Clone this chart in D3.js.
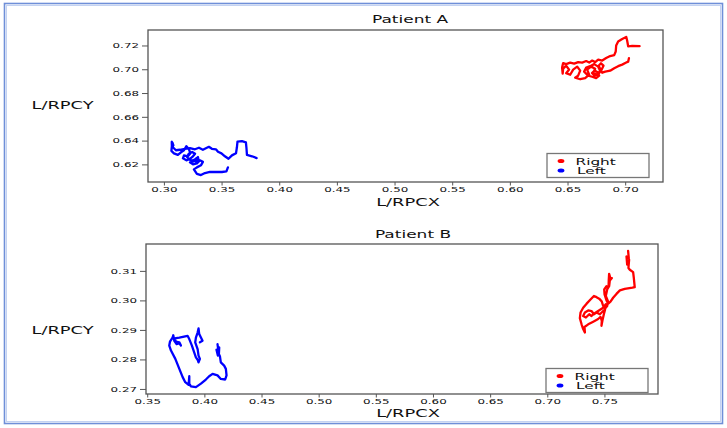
<!DOCTYPE html>
<html>
<head>
<meta charset="utf-8">
<script src="https://cdnjs.cloudflare.com/ajax/libs/d3/7.8.5/d3.min.js"></script>
<style>
  body { margin: 0; background: #fff; }
  text { font-family: "DejaVu Sans", sans-serif; fill: #111; }
</style>
</head>
<body>
<div id="chart"></div>
<script>
// ---- data: [L/RPCX, L/RPCY] traces ----
const rightA = [
  [0.7125,0.7194],[0.7061,0.7196],[0.7026,0.7193],[0.7017,0.7242],[0.7009,0.7272],[0.6974,0.7255],
  [0.6939,0.7234],[0.6922,0.7200],[0.6918,0.7149],[0.6905,0.7119],[0.6870,0.7111],[0.6835,0.7094],
  [0.6801,0.7073],[0.6766,0.7081],[0.6740,0.7060],[0.6714,0.7073],[0.6688,0.7056],[0.6662,0.7069],
  [0.6627,0.7056],[0.6592,0.7060],[0.6558,0.7047],[0.6523,0.7056],[0.6488,0.7043],[0.6462,0.7052],
  [0.6453,0.7014],[0.6458,0.6963],[0.6462,0.7005],[0.6488,0.7030],[0.6514,0.6997],[0.6488,0.6967],
  [0.6523,0.6954],[0.6549,0.6997],[0.6584,0.7022],[0.6610,0.6988],[0.6592,0.6946],[0.6566,0.6929],
  [0.6610,0.6916],[0.6653,0.6925],[0.6688,0.6954],[0.6670,0.6997],[0.6705,0.7022],[0.6740,0.7005],
  [0.6722,0.6971],[0.6757,0.6954],[0.6783,0.6988],[0.6766,0.7022],[0.6731,0.7043],[0.6696,0.7026],
  [0.6662,0.7014],[0.6644,0.6980],[0.6679,0.6946],[0.6714,0.6937],[0.6748,0.6925],[0.6775,0.6946],
  [0.6760,0.6975],[0.6735,0.6990],[0.6712,0.6968],[0.6735,0.6945],[0.6770,0.6962],[0.6795,0.6995],
  [0.6812,0.7030],[0.6790,0.7050],[0.6770,0.7030],
  [0.6801,0.6971],[0.6827,0.6980],[0.6870,0.6988],[0.6905,0.7009],[0.6939,0.7026],[0.6974,0.7039],
  [0.7009,0.7056],[0.7026,0.7064],[0.7033,0.7094]
];
const leftA = [
  [0.3804,0.6253],[0.3764,0.6268],[0.3720,0.6280],[0.3716,0.6336],[0.3711,0.6386],[0.3677,0.6395],
  [0.3638,0.6391],[0.3633,0.6344],[0.3625,0.6293],[0.3590,0.6276],[0.3560,0.6247],[0.3529,0.6268],
  [0.3499,0.6293],[0.3469,0.6306],[0.3451,0.6327],[0.3416,0.6331],[0.3390,0.6348],[0.3364,0.6336],
  [0.3338,0.6323],[0.3304,0.6340],[0.3269,0.6327],[0.3226,0.6336],[0.3182,0.6331],[0.3139,0.6323],
  [0.3104,0.6319],[0.3078,0.6344],[0.3074,0.6382],[0.3082,0.6360],[0.3068,0.6390],[0.3069,0.6353],
  [0.3065,0.6314],[0.3087,0.6293],
  [0.3121,0.6280],[0.3148,0.6302],[0.3174,0.6319],[0.3195,0.6353],[0.3217,0.6327],[0.3230,0.6293],
  [0.3208,0.6268],[0.3174,0.6276],[0.3165,0.6251],[0.3195,0.6234],[0.3226,0.6247],[0.3252,0.6268],
  [0.3270,0.6290],[0.3245,0.6305],[0.3215,0.6290],[0.3200,0.6262],[0.3222,0.6240],[0.3250,0.6232],
  [0.3275,0.6245],[0.3295,0.6262],[0.3300,0.6240],[0.3278,0.6222],
  [0.3278,0.6251],[0.3260,0.6225],[0.3226,0.6217],[0.3252,0.6200],[0.3286,0.6208],[0.3312,0.6234],
  [0.3338,0.6221],[0.3321,0.6192],[0.3286,0.6175],[0.3260,0.6158],[0.3286,0.6120],[0.3321,0.6110],
  [0.3356,0.6127],[0.3399,0.6136],[0.3451,0.6136],[0.3503,0.6136],[0.3542,0.6141],[0.3555,0.6175]
];
const rightB = [
  [0.7707,0.3168],[0.7713,0.3143],[0.7693,0.3149],[0.7699,0.3121],[0.7716,0.3138],[0.7710,0.3110],
  [0.7722,0.3104],[0.7751,0.3096],[0.7757,0.3076],[0.7765,0.3045],[0.7745,0.3043],[0.7678,0.3039],
  [0.7635,0.3034],[0.7605,0.3022],[0.7576,0.3009],[0.7553,0.2996],[0.7533,0.2989],[0.7518,0.3000],
  [0.7501,0.3020],[0.7498,0.3037],[0.7518,0.3048],[0.7536,0.3045],[0.7538,0.3071],[0.7541,0.3090],
  [0.7550,0.3078],[0.7565,0.3076],[0.7547,0.3067],[0.7541,0.3048],[0.7524,0.3037],[0.7512,0.3015],
  [0.7530,0.2998],[0.7524,0.2981],[0.7506,0.2973],[0.7489,0.2981],[0.7477,0.2996],[0.7454,0.3006],
  [0.7431,0.3011],[0.7408,0.3015],[0.7378,0.3003],[0.7344,0.2989],[0.7314,0.2975],[0.7291,0.2959],
  [0.7285,0.2940],[0.7300,0.2919],[0.7314,0.2903],[0.7329,0.2891],[0.7326,0.2910],[0.7358,0.2919],
  [0.7402,0.2928],[0.7445,0.2937],[0.7466,0.2944],[0.7477,0.2931],[0.7474,0.2914],[0.7483,0.2933],
  [0.7495,0.2953],[0.7506,0.2969],[0.7489,0.2964],[0.7460,0.2953],[0.7431,0.2959],[0.7408,0.2953],
  [0.7387,0.2964],[0.7358,0.2966],[0.7329,0.2959],[0.7314,0.2947],[0.7338,0.2942],[0.7367,0.2953],
  [0.7387,0.2947],[0.7408,0.2955],[0.7445,0.2964],[0.7489,0.2975],[0.7512,0.2987]
];
const leftB = [
  [0.4115,0.2852],[0.4124,0.2824],[0.4106,0.2833],[0.4118,0.2813],[0.4130,0.2841],[0.4127,0.2818],
  [0.4136,0.2811],[0.4144,0.2790],[0.4173,0.2779],[0.4188,0.2768],[0.4194,0.2746],[0.4182,0.2732],
  [0.4144,0.2734],[0.4115,0.2746],[0.4072,0.2751],[0.4042,0.2743],[0.4013,0.2732],[0.3970,0.2718],
  [0.3926,0.2706],[0.3882,0.2709],[0.3868,0.2718],[0.3868,0.2743],[0.3862,0.2714],[0.3833,0.2723],
  [0.3810,0.2740],[0.3781,0.2768],[0.3746,0.2802],[0.3708,0.2830],[0.3693,0.2847],[0.3699,0.2860],
  [0.3722,0.2874],[0.3728,0.2882],[0.3737,0.2863],[0.3757,0.2852],[0.3781,0.2855],[0.3795,0.2847],
  [0.3781,0.2858],[0.3751,0.2860],[0.3740,0.2871],[0.3781,0.2874],[0.3853,0.2880],[0.3868,0.2869],
  [0.3891,0.2847],[0.3911,0.2824],[0.3926,0.2807],[0.3941,0.2799],[0.3949,0.2790],[0.3961,0.2802],
  [0.3949,0.2813],[0.3941,0.2835],[0.3920,0.2858],[0.3926,0.2874],[0.3941,0.2891],[0.3949,0.2905],
  [0.3955,0.2886],[0.3970,0.2874],[0.3984,0.2863],[0.3961,0.2858]
];

const xTicksA = [0.30, 0.35, 0.40, 0.45, 0.50, 0.55, 0.60, 0.65, 0.70];
const yTicksA = [0.62, 0.64, 0.66, 0.68, 0.70, 0.72];
const xTicksB = [0.35, 0.40, 0.45, 0.50, 0.55, 0.60, 0.65, 0.70, 0.75];
const yTicksB = [0.27, 0.28, 0.29, 0.30, 0.31];

const seriesNames = ["Right", "Left"];
const seriesColors = ["#ff0000", "#0000ff"];

// ---- page ----
const width = 727, height = 428;
const SX = 1.7; // the figure is stretched sideways, text too

const svg = d3.select("#chart").append("svg")
  .attr("width", width)
  .attr("height", height);

// light blue frame round the whole picture
svg.append("rect")
  .attr("x", 4.5).attr("y", 3.5).attr("width", 718).attr("height", 420)
  .attr("fill", "none").attr("stroke", "#6f8fd8").attr("stroke-width", 1.6);
svg.append("rect")
  .attr("x", 6.5).attr("y", 5.5).attr("width", 714).attr("height", 416)
  .attr("fill", "none").attr("stroke", "#c3d2f2").attr("stroke-width", 1);

function stretchedText(g, x, y, str, size, anchor) {
  return g.append("text")
    .attr("transform", `translate(${x},${y}) scale(${SX},1)`)
    .attr("text-anchor", anchor || "middle")
    .style("font-size", size + "px")
    .text(str);
}

function drawPanel(cfg) {
  const g = svg.append("g");
  const all = cfg.series.flat();
  const ex = d3.extent(all, d => d[0]), ey = d3.extent(all, d => d[1]);
  const px = (ex[1] - ex[0]) * 0.05, py = (ey[1] - ey[0]) * 0.05;

  const x = d3.scaleLinear().domain([ex[0] - px, ex[1] + px]).range([cfg.left, cfg.right]);
  const y = d3.scaleLinear().domain([ey[0] - py, ey[1] + py]).range([cfg.bottom, cfg.top]);

  // traces
  const line = d3.line().x(d => x(d[0])).y(d => y(d[1]));
  cfg.series.forEach((s, i) => {
    g.append("path")
      .datum(s)
      .attr("d", line)
      .attr("fill", "none")
      .attr("stroke", seriesColors[i])
      .attr("stroke-width", 2.3)
      .attr("stroke-linejoin", "round")
      .attr("stroke-linecap", "round");
  });

  // axes
  const xAxis = g.append("g")
    .attr("transform", `translate(0,${cfg.bottom})`)
    .call(d3.axisBottom(x).tickValues(cfg.xTicks).tickFormat(d3.format(".2f"))
      .tickSize(3.5).tickSizeOuter(0).tickPadding(2));
  const yAxis = g.append("g")
    .attr("transform", `translate(${cfg.left},0)`)
    .call(d3.axisLeft(y).tickValues(cfg.yTicks).tickFormat(d3.format(".2f"))
      .tickSize(6).tickSizeOuter(0).tickPadding(3));
  [xAxis, yAxis].forEach(a => {
    a.select(".domain").remove();
    a.selectAll(".tick line").attr("stroke", "#555").attr("stroke-width", 1);
    a.selectAll(".tick text").style("font-size", "7px").style("font-family", "DejaVu Sans").attr("fill", "#111");
  });
  xAxis.selectAll(".tick text").attr("transform", `scale(${SX},1)`);
  yAxis.selectAll(".tick text").attr("x", -9 / SX).attr("transform", `scale(${SX},1)`);

  // frame
  g.append("rect")
    .attr("x", cfg.left).attr("y", cfg.top)
    .attr("width", cfg.right - cfg.left).attr("height", cfg.bottom - cfg.top)
    .attr("fill", "none").attr("stroke", "#555").attr("stroke-width", 1.3);

  // texts
  stretchedText(g, cfg.titleX, cfg.titleY, cfg.title, 10);
  stretchedText(g, cfg.xLabelX, cfg.xLabelY, "L/RPCX", 10.5);
  stretchedText(g, 62.5, cfg.yLabelY, "L/RPCY", 10.5);

  // legend
  const lg = g.append("g").attr("transform", `translate(${cfg.legendX},${cfg.legendY})`);
  lg.append("rect")
    .attr("width", 102).attr("height", 24)
    .attr("fill", "#fff").attr("stroke", "#777").attr("stroke-width", 1.3);
  seriesNames.forEach((name, i) => {
    lg.append("ellipse")
      .attr("cx", 14).attr("cy", 7.5 + i * 9.5)
      .attr("rx", 3.4).attr("ry", 2.1)
      .attr("fill", seriesColors[i]);
    stretchedText(lg, i === 0 ? 28.5 : 30, 11 + i * 9.5, name, 9, "start");
  });
}

drawPanel({
  series: [rightA, leftA], xTicks: xTicksA, yTicks: yTicksA,
  left: 148, right: 663, top: 30, bottom: 182,
  title: "Patient A", titleX: 410, titleY: 23,
  xLabelX: 408, xLabelY: 206, yLabelY: 109,
  legendX: 547, legendY: 153.5
});

drawPanel({
  series: [rightB, leftB], xTicks: xTicksB, yTicks: yTicksB,
  left: 146, right: 658, top: 244, bottom: 394,
  title: "Patient B", titleX: 413, titleY: 238,
  xLabelX: 408, xLabelY: 417, yLabelY: 334,
  legendX: 546, legendY: 368.5
});
</script>
</body>
</html>
